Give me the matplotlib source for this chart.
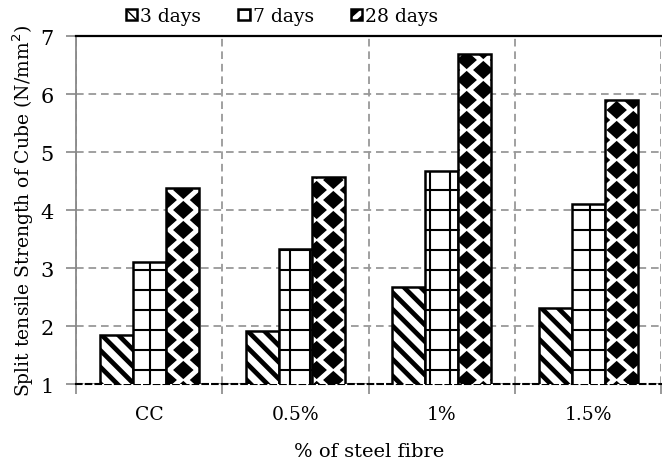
import numpy as np
import matplotlib
matplotlib.use("Agg")
import matplotlib.pyplot as plt
from matplotlib import hatch as mhatch
from matplotlib.path import Path
from matplotlib.ticker import FixedLocator

# values (N/mm2)
fibre = ["CC", "0.5%", "1%", "1.5%"]
ages = ["3 days", "7 days", "28 days"]
day3 = [1.85, 1.92, 2.68, 2.32]
day7 = [3.10, 3.33, 4.68, 4.10]
day28 = [4.38, 4.57, 6.70, 5.90]


# wider grid for "+" (5 lines per inch instead of 6)
class WideHorizontal(mhatch.HorizontalHatch):
    def __init__(self, hatch, density):
        super().__init__(hatch, density * 5 / 6)


class WideVertical(mhatch.VerticalHatch):
    def __init__(self, hatch, density):
        super().__init__(hatch, density * 5 / 6)


# "*" becomes a staggered grid of filled diamonds
class Diamonds(mhatch.HatchPatternBase):
    ncol, nrow = 3, 10
    hw, hh = 0.092, 0.082

    def __init__(self, hatch, density):
        self.centres = []
        if "*" in hatch:
            for r in range(self.nrow + 1):
                y = r / self.nrow
                if r % 2 == 0:
                    xs = np.arange(self.ncol + 1) / self.ncol
                else:
                    xs = (np.arange(self.ncol) + 0.5) / self.ncol
                self.centres += [(xx, y) for xx in xs]
        self.num_vertices = len(self.centres) * 5

    def set_vertices_and_codes(self, vertices, codes):
        shape = np.array([[0, self.hh], [-self.hw, 0], [0, -self.hh],
                          [self.hw, 0], [0, 0]])
        for i, (cx, cy) in enumerate(self.centres):
            vertices[i * 5:i * 5 + 5] = shape + (cx, cy)
            codes[i * 5:i * 5 + 5] = [Path.MOVETO, Path.LINETO, Path.LINETO,
                                      Path.LINETO, Path.CLOSEPOLY]


swap = {mhatch.HorizontalHatch: WideHorizontal,
        mhatch.VerticalHatch: WideVertical,
        mhatch.Stars: Diamonds}
mhatch._hatch_types[:] = [swap.get(t, t) for t in mhatch._hatch_types]

plt.rcParams["font.family"] = ["DejaVu Serif"]
plt.rcParams["lines.scale_dashes"] = False

fig = plt.figure(figsize=(6.62, 4.64), dpi=100)
ax = fig.add_axes([0.115, 0.170, 0.884, 0.750])

x = np.arange(len(fibre))
w = 0.226
styles = [("\\\\", 3.4), ("+", 1.5), ("*", 1.0)]
for k, (vals, label) in enumerate(zip([day3, day7, day28], ages)):
    hatch, hlw = styles[k]
    bars = ax.bar(x + (k - 1) * w, vals, width=w, color="white",
                  edgecolor="black", linewidth=1.8, hatch=hatch,
                  label=label, zorder=3)
    for b in bars:
        if hasattr(b, "set_hatch_linewidth"):
            b.set_hatch_linewidth(hlw)

ax.set_xlim(-0.5, 3.5)
ax.set_ylim(1, 7)
ax.set_yticks(range(1, 8))
ax.set_xticks(x)
ax.set_xticklabels(fibre)
ax.xaxis.set_minor_locator(FixedLocator([-0.5, 0.5, 1.5, 2.5, 3.5]))

dash = (0, (5.5, 3.5))
ax.grid(axis="y", which="major", color="#999999", linestyle=dash, linewidth=1.3, zorder=1)
ax.grid(axis="x", which="minor", color="#999999", linestyle=dash, linewidth=1.3, zorder=1)
ax.set_axisbelow(True)

ax.spines["right"].set_visible(False)
ax.spines["top"].set_color("black")
ax.spines["top"].set_linewidth(1.6)
ax.spines["left"].set_color("#888888")
ax.spines["left"].set_linewidth(1.3)
ax.spines["bottom"].set_color("black")
ax.spines["bottom"].set_linestyle((0, (4, 3)))
ax.spines["bottom"].set_linewidth(1.5)

ax.tick_params(axis="y", length=7, width=1.2, color="#888888", labelsize=15, pad=9)
ax.tick_params(axis="x", which="major", length=0, labelsize=13.5, pad=15)
ax.tick_params(axis="x", which="minor", length=7, width=1.2, color="#888888")

ax.set_ylabel("Split tensile Strength of Cube (N/mm$^2$)", fontsize=13.5, labelpad=3)
ax.set_xlabel("% of steel fibre", fontsize=14, labelpad=14)

ax.legend(loc="lower center", bbox_to_anchor=(0.352, 1.01), ncol=3,
          frameon=False, fontsize=13.5, handlelength=0.6, handleheight=0.6,
          handletextpad=0.15, columnspacing=2.0, borderaxespad=0)

plt.savefig("out.png", dpi=100)
